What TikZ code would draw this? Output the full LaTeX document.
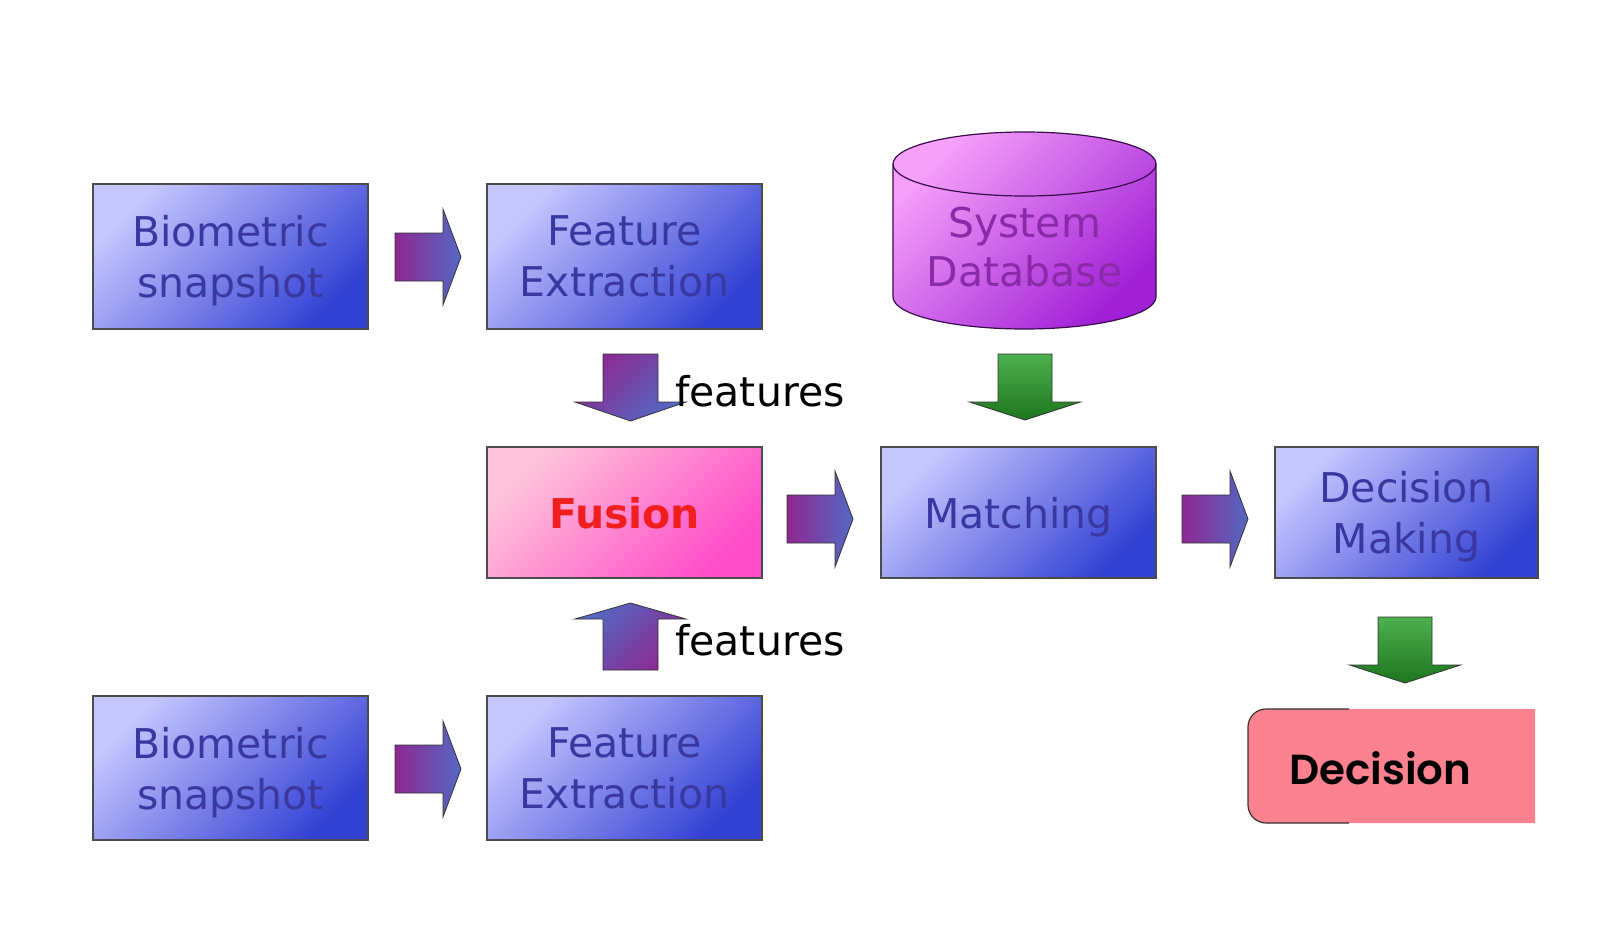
\documentclass[tikz,border=0pt]{standalone}
\usepackage{fontspec}
\setmainfont{DejaVu Sans}
\newfontfamily\popfont{Poppins SemiBold}
\usetikzlibrary{calc}
\definecolor{boxlight}{HTML}{C6C6FF}
\definecolor{boxdark}{HTML}{3442D4}
\definecolor{boxtext}{HTML}{3838A0}
\definecolor{pinklight}{HTML}{FFC4DA}
\definecolor{pinkdark}{HTML}{FF4CC8}
\definecolor{cyllight}{HTML}{F7A0FA}
\definecolor{cyldark}{HTML}{A020D6}
\definecolor{cyltext}{HTML}{8A2AA8}
\definecolor{arrpurple}{HTML}{8E2890}
\definecolor{arrblue}{HTML}{5468C4}
\definecolor{grnlight}{HTML}{4DB04D}
\definecolor{grndark}{HTML}{1E761E}
\definecolor{decfill}{HTML}{FC8290}
\definecolor{fusred}{HTML}{F01E1E}
\tikzset{
  bluebox/.style={draw=black!70, line width=1.2pt, top color=boxlight, bottom color=boxdark, shading angle=45,
    minimum width=275pt, minimum height=145pt, inner sep=0pt, align=center, text=boxtext, text depth=0pt,
    font=\fontsize{41}{51}\selectfont},
  pinkbox/.style={bluebox, top color=pinklight, bottom color=pinkdark, shading angle=45},
  featlbl/.style={anchor=base west, inner sep=0pt, font=\fontsize{41}{51}\selectfont, text=black},
  harrowpic/.pic={
    \shade[draw=black!80, line width=0.8pt, left color=arrpurple, right color=arrblue]
      (0,-24) -- (48,-24) -- (48,-48) -- (66,0) -- (48,48) -- (48,24) -- (0,24) -- cycle;
  },
  darrowpic/.pic={
    \shade[draw=black!80, line width=0.8pt, top color=arrpurple, bottom color=arrblue, shading angle=45]
      (-27.5,0) -- (27.5,0) -- (27.5,48) -- (55.5,48) -- (0,67) -- (-55.5,48) -- (-27.5,48) -- cycle;
  },
  uarrowpic/.pic={
    \shade[draw=black!80, line width=0.8pt, top color=arrblue, bottom color=arrpurple, shading angle=45]
      (0,0) -- (55.5,16) -- (27.5,16) -- (27.5,67) -- (-27.5,67) -- (-27.5,16) -- (-55.5,16) -- cycle;
  },
  garrowpic/.pic={
    \shade[draw=black!80, line width=0.8pt, top color=grnlight, bottom color=grndark]
      (-27,0) -- (27,0) -- (27,48) -- (55.5,48) -- (0,66) -- (-55.5,48) -- (-27,48) -- cycle;
  }
}
\begin{document}
\begin{tikzpicture}[x=1pt,y=-1pt]
\useasboundingbox (0,0) rectangle (1617,950);
\fill[white] (0,0) rectangle (1617,950);

% boxes
\node[bluebox] (bs1) at (230.5,256.5) {Biometric\\snapshot};
\node[bluebox] (fe1) at (624.5,256.5) {Feature\\Extraction};
\node[pinkbox, minimum height=131pt, font=\fontsize{41}{51}\selectfont\bfseries, text=fusred] (fus) at (624.5,512.5) {Fusion};
\node[bluebox, minimum height=131pt] (mat) at (1018.5,512.5) {Matching};
\node[bluebox, minimum height=131pt, minimum width=263pt] (dm) at (1406.5,512.5) {Decision\\Making};
\node[bluebox, minimum height=144pt] (bs2) at (230.5,768) {Biometric\\snapshot};
\node[bluebox, minimum height=144pt] (fe2) at (624.5,768) {Feature\\Extraction};

% cylinder
\shade[draw=black!65!cyldark, line width=1.2pt, top color=cyllight, bottom color=cyldark, shading angle=45]
  (893,164) arc[start angle=180, end angle=360, x radius=131.5, y radius=32]
  -- (1156,297) arc[start angle=0, end angle=180, x radius=131.5, y radius=32] -- cycle;
\draw[black!65!cyldark, line width=1.2pt] (893,164) arc[start angle=180, end angle=0, x radius=131.5, y radius=32];
\node[align=center, text=cyltext, font=\fontsize{41}{49}\selectfont, inner sep=0pt] (db) at (1024.5,247) {System\\Database};

% block arrows
\pic at (395,257) {harrowpic};
\pic at (395,769) {harrowpic};
\pic at (787,519) {harrowpic};
\pic at (1182,519) {harrowpic};
\pic at (630.5,354) {darrowpic};
\pic at (630.5,603) {uarrowpic};
\pic at (1025,354) {garrowpic};
\pic at (1405,617) {garrowpic};

% features labels
\node[featlbl] (f1) at (675,406) {features};
\node[featlbl] (f2) at (675,655) {features};

% decision box
\fill[decfill] (1349,709) -- (1535,709) -- (1535,823) -- (1266,823)
  arc[start angle=90, end angle=180, radius=18] -- (1248,727)
  arc[start angle=180, end angle=270, radius=18] -- cycle;
\draw[black!80, line width=1.2pt] (1349,709) -- (1266,709)
  arc[start angle=270, end angle=180, radius=18] -- (1248,805)
  arc[start angle=180, end angle=90, radius=18] -- (1349,823);
\node[anchor=west, inner sep=0pt, font=\popfont\fontsize{42}{50}\selectfont, text=black] (dec) at (1289,768) {Decision};
\end{tikzpicture}
\end{document}
